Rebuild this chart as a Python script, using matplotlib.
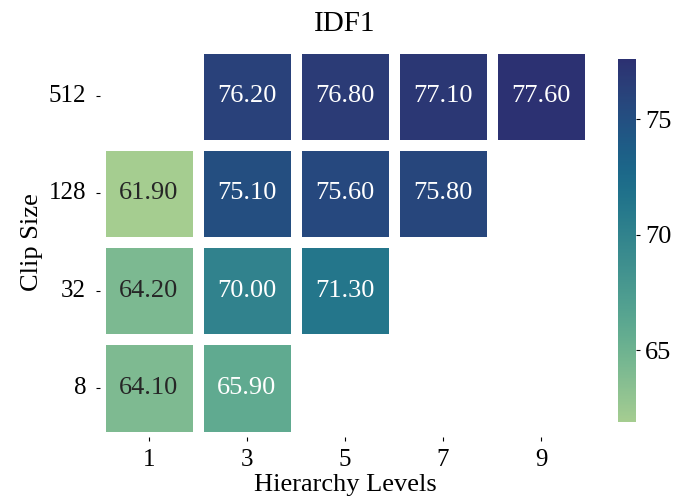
import numpy as np
import pandas as pd
import seaborn as sns
import matplotlib
matplotlib.use("Agg")
import matplotlib.pyplot as plt

clip_sizes = ["512", "128", "32", "8"]
levels = ["1", "3", "5", "7", "9"]
row_512 = [np.nan, 76.2, 76.8, 77.1, 77.6]
row_128 = [61.9, 75.1, 75.6, 75.8, np.nan]
row_32 = [64.2, 70.0, 71.3, np.nan, np.nan]
row_8 = [64.1, 65.9, np.nan, np.nan, np.nan]

plt.rcParams['font.family'] = ['Liberation Serif', 'DejaVu Serif']

df = pd.DataFrame([row_512, row_128, row_32, row_8], index=clip_sizes, columns=levels)

fig = plt.figure(figsize=(6.79, 5.04), dpi=100)
ax = fig.add_axes([100 / 679, 67.5 / 504, 490 / 679, 389 / 504])
cax = fig.add_axes([618 / 679, 82 / 504, 18 / 679, 363 / 504])

sns.heatmap(df, ax=ax, cbar_ax=cax, cmap="crest", annot=True, fmt=".2f",
            linewidths=6.5, linecolor="white",
            annot_kws={"fontsize": 19})

ax.set_title("IDF1", fontsize=21, pad=12)
ax.set_xlabel("Hierarchy Levels", fontsize=19, labelpad=2)
ax.set_ylabel("Clip Size", fontsize=19, labelpad=4)
ax.tick_params(axis="both", labelsize=18, length=3)
ax.tick_params(axis="x", pad=6)
ax.tick_params(axis="y", pad=7)
ax.set_yticklabels(clip_sizes, rotation=0)
cax.tick_params(labelsize=19, length=3)
cax.set_yticks([65, 70, 75])
for s in cax.spines.values():
    s.set_visible(False)

fig.savefig("out.png", dpi=100)
